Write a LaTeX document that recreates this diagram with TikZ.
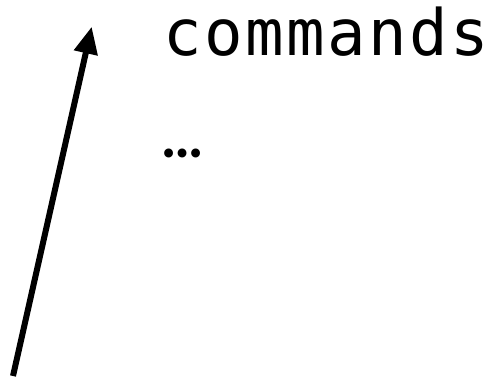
\documentclass[tikz,border=0pt]{standalone}
\usepackage{fontspec}
\newfontfamily\codefont[LetterSpace=4]{DejaVu Sans Mono}
\newfontfamily\dotfont{Poppins}
\usetikzlibrary{arrows.meta}

\begin{document}
\begin{tikzpicture}[x=1pt, y=1pt,
	code/.style={inner sep=0, anchor=base west, font=\codefont\fontsize{64}{70}\selectfont}]
			%%%%% START %%%%%
			
			\useasboundingbox (0, 0) rectangle (492, 380);
			
			\node[code] (cmd) at (163, 324) {commands};
			\node[code, font=\dotfont\fontsize{72}{78}\selectfont] (dots) at (161.5, 222) {…};
			
			\coordinate (tail) at (13, 4);
			\coordinate (tip) at (91.7, 353.3);
			\draw[line width=6pt, -{Triangle[length=27pt, width=23pt]}] (tail) -- (tip);
			
			%%%%% END %%%%%
		\end{tikzpicture}
\end{document}
